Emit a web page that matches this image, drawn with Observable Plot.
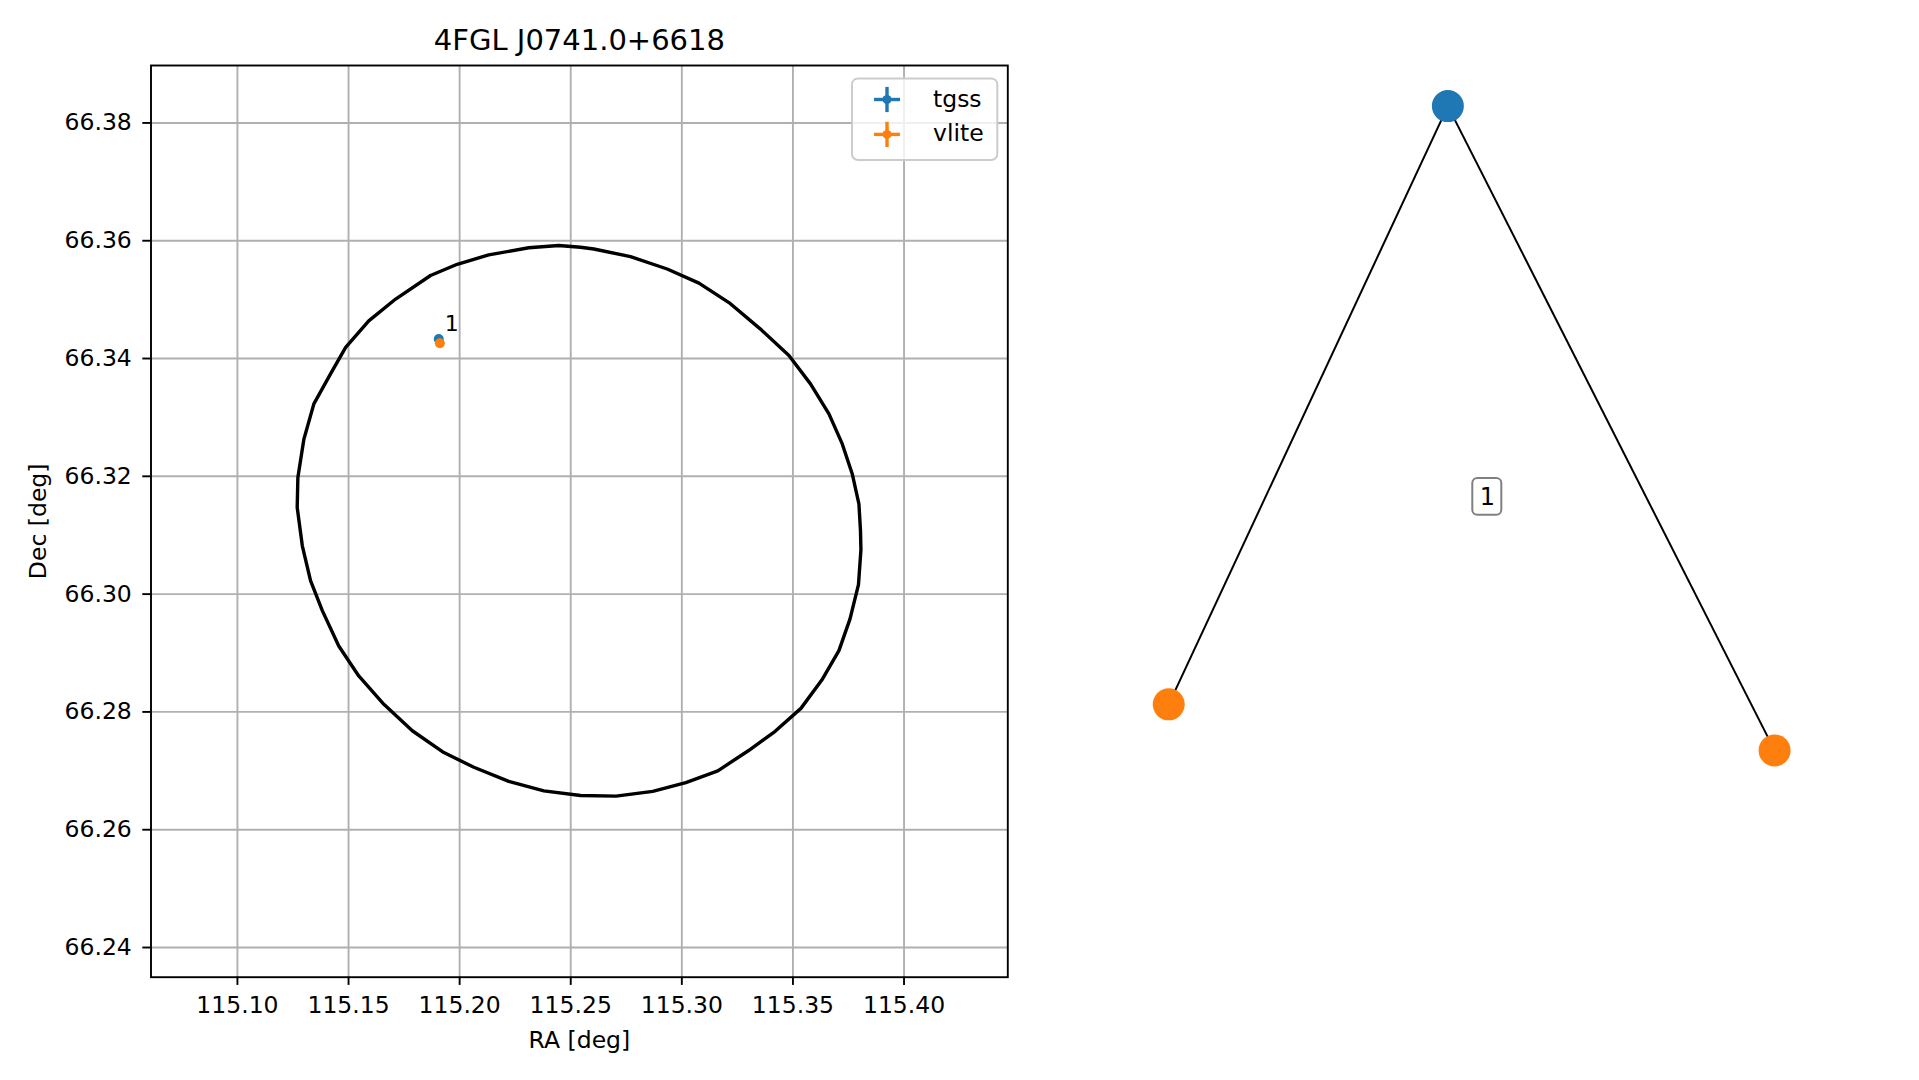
<!DOCTYPE html>
<html><head><meta charset="utf-8">
<script src="https://cdn.jsdelivr.net/npm/d3@7"></script>
<script src="https://cdn.jsdelivr.net/npm/@observablehq/plot@0.6"></script>
<style>
html,body{margin:0;padding:0;background:#fff;}
#fig{position:relative;width:1919px;height:1080px;background:#fff;overflow:hidden;font-family:"DejaVu Sans",sans-serif;}
#left,#right{position:absolute;top:0;}
#left{left:0;} #right{left:1040px;}
</style></head><body><div id="fig"><div id="left"></div><div id="right"></div></div>
<script>
// ---------- data ----------
const title = "4FGL J0741.0+6618";
const xLabel = "RA [deg]";
const yLabel = "Dec [deg]";
const xTicks = [115.10, 115.15, 115.20, 115.25, 115.30, 115.35, 115.40];
const yTicks = [66.24, 66.26, 66.28, 66.30, 66.32, 66.34, 66.36, 66.38];
const surveys = ["tgss", "vlite"];
const surveyColors = ["#1f77b4", "#ff7f0e"];
const sourceRA = [115.1906, 115.1911];
const sourceDec = [66.3433, 66.3426];
const sourceId = "1";
const ellipseRA = [115.2446,115.2544,115.2604,115.2769,115.2934,115.3077,115.3212,115.3354,115.3482,115.3579,115.3662,115.3722,115.3767,115.3797,115.3804,115.3806,115.3795,115.3757,115.3707,115.3630,115.3536,115.3420,115.3299,115.3162,115.3018,115.2869,115.2704,115.2544,115.2379,115.2221,115.2064,115.1929,115.1787,115.1659,115.1546,115.1456,115.1382,115.1329,115.1292,115.1269,115.1272,115.1299,115.1344,115.1419,115.1487,115.1591,115.1712,115.1869,115.1989,115.2131,115.2311];
const ellipseDec = [66.3592,66.3589,66.3586,66.3573,66.3552,66.3528,66.3495,66.3450,66.3405,66.3357,66.3306,66.3255,66.3204,66.3153,66.3108,66.3075,66.3016,66.2958,66.2904,66.2854,66.2806,66.2767,66.2734,66.2700,66.2680,66.2665,66.2657,66.2658,66.2666,66.2682,66.2706,66.2731,66.2768,66.2813,66.2861,66.2912,66.2972,66.3023,66.3082,66.3147,66.3198,66.3263,66.3323,66.3374,66.3419,66.3464,66.3501,66.3541,66.3560,66.3576,66.3588];
// graph panel (layout coordinates)
const nodeSurvey = ["tgss", "vlite", "vlite"];
const nodeX = [-0.096, -0.917, 0.865];
const nodeY = [0.911, -0.401, -0.502];
const edgeFrom = [0, 0];
const edgeTo = [1, 2];
const groupLabel = "1";
const groupLabelX = [0.020];
const groupLabelY = [0.054];

const FONT = "DejaVu Sans";
const colorScale = {domain: surveys, range: surveyColors};

// ---------- left panel ----------
function legendMark(index, scales, values, dims) {
  const g = d3.create("svg:g");
  const right = dims.width - dims.marginRight;
  const w = 145.3, h = 81.6;
  const x0 = right - 10 - w, y0 = dims.marginTop + 13.4;
  g.append("rect").attr("x", x0).attr("y", y0).attr("width", w).attr("height", h)
    .attr("rx", 6).attr("fill", "white").attr("fill-opacity", 0.8)
    .attr("stroke", "#cccccc").attr("stroke-width", 2);
  surveys.forEach((s, i) => {
    const cx = x0 + 35, cy = y0 + 21.1 + i * 34.9;
    const col = surveyColors[i];
    g.append("line").attr("x1", cx - 13).attr("x2", cx + 13).attr("y1", cy).attr("y2", cy)
      .attr("stroke", col).attr("stroke-width", 3.4);
    g.append("line").attr("x1", cx).attr("x2", cx).attr("y1", cy - 12.6).attr("y2", cy + 12.6)
      .attr("stroke", col).attr("stroke-width", 3.4);
    g.append("circle").attr("cx", cx).attr("cy", cy).attr("r", 4.5).attr("fill", col);
    g.append("text").attr("x", x0 + 81).attr("y", cy).attr("dy", "0.3em")
      .attr("text-anchor", "start").attr("font-size", 23.5).attr("fill", "black").text(s);
  });
  return g.node();
}

const left = Plot.plot({
  width: 1040, height: 1080,
  marginLeft: 150.5, marginRight: 32.7, marginTop: 65, marginBottom: 103.3,
  style: {fontFamily: FONT, fontSize: "23.5px", color: "black", background: "transparent", overflow: "visible"},
  x: {domain: [115.0611, 115.4467]},
  y: {domain: [66.23496, 66.38975]},
  color: colorScale,
  marks: [
    Plot.gridX({ticks: xTicks, stroke: "#b0b0b0", strokeOpacity: 1, strokeWidth: 1.9}),
    Plot.gridY({ticks: yTicks, stroke: "#b0b0b0", strokeOpacity: 1, strokeWidth: 1.9}),
    Plot.line({length: ellipseRA.length}, {x: ellipseRA, y: ellipseDec, curve: "linear-closed", stroke: "black", strokeWidth: 3.4}),
    Plot.dot(surveys, {x: sourceRA, y: sourceDec, fill: surveys, r: 5}),
    Plot.text([sourceId], {x: [sourceRA[0]], y: [sourceDec[0]], text: d => d, dx: 6, dy: -8, textAnchor: "start", lineAnchor: "bottom", fontSize: 22}),
    Plot.frame({stroke: "black", strokeWidth: 1.9}),
    Plot.axisX({ticks: xTicks, tickFormat: d3.format(".2f"), tickSize: 8.2, tickPadding: 11, strokeWidth: 1.9, label: null, fontSize: 23.5}),
    Plot.axisY({ticks: yTicks, tickFormat: d3.format(".2f"), tickSize: 8.2, tickPadding: 11, strokeWidth: 1.9, label: null, fontSize: 23.5}),
    Plot.text([title], {text: d => d, frameAnchor: "top", dy: -15.7, lineAnchor: "bottom", fontSize: 29}),
    Plot.text([xLabel], {text: d => d, frameAnchor: "bottom", dy: 70.5, lineAnchor: "bottom", fontSize: 23.5}),
    Plot.text([yLabel], {text: d => d, frameAnchor: "left", textAnchor: "middle", dx: -105.5, rotate: -90, lineAnchor: "bottom", fontSize: 23.5}),
    legendMark
  ]
});
document.getElementById("left").appendChild(left);

// ---------- right panel (graph) ----------
function labelBox(index, scales) {
  const cx = scales.x(groupLabelX[0]), cy = scales.y(groupLabelY[0]);
  const w = 29, h = 36.7;
  return d3.create("svg:rect").attr("x", cx - w / 2).attr("y", cy - h / 2)
    .attr("width", w).attr("height", h).attr("rx", 5)
    .attr("fill", "white").attr("stroke", "#808080").attr("stroke-width", 2).node();
}

const right = Plot.plot({
  width: 879, height: 1080,
  margin: 0,
  style: {fontFamily: FONT, fontSize: "24px", color: "black", background: "transparent", overflow: "visible"},
  x: {domain: [-1, 1], range: [100, 780], axis: null},
  y: {domain: [-1, 1], range: [977, 65], axis: null},
  color: colorScale,
  marks: [
    Plot.link(edgeFrom.map((_, i) => i), {
      x1: i => nodeX[edgeFrom[i]], y1: i => nodeY[edgeFrom[i]],
      x2: i => nodeX[edgeTo[i]], y2: i => nodeY[edgeTo[i]],
      stroke: "black", strokeWidth: 2
    }),
    Plot.dot(nodeSurvey.map((_, i) => i), {x: i => nodeX[i], y: i => nodeY[i], fill: i => nodeSurvey[i], r: 16}),
    labelBox,
    Plot.text([groupLabel], {x: groupLabelX, y: groupLabelY, text: d => d, fontSize: 24, lineAnchor: "middle"})
  ]
});
document.getElementById("right").appendChild(right);
</script></body></html>
